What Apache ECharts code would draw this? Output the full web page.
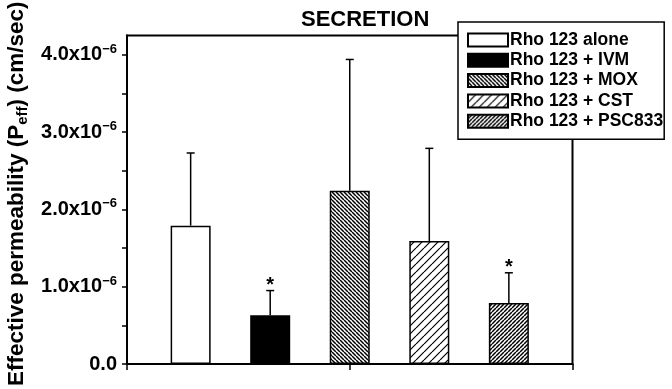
<!DOCTYPE html>
<html><head><meta charset="utf-8">
<script src="https://cdn.jsdelivr.net/npm/echarts@6/dist/echarts.min.js"></script>
<style>html,body{margin:0;padding:0;background:#fff}#c{width:672px;height:389px}</style>
</head><body><div id="c"></div>
<script>
// Data (values in units of 1e-6 cm/sec)
const categories = ['Rho 123 alone', 'Rho 123 + IVM', 'Rho 123 + MOX', 'Rho 123 + CST', 'Rho 123 + PSC833'];
const means = [1.79, 0.63, 2.24, 1.59, 0.79];
const errors = [0.94, 0.32, 1.70, 1.20, 0.39];
const significant = [false, true, false, false, true];
const yTickLabels = [0, 1, 2, 3, 4];
const yMinorTicks = [0, 0.5, 1, 1.5, 2, 2.5, 3, 3.5, 4];

const X_OFFSET = 0.8, X_MAX = 5.6;
const xPos = categories.map((_, i) => i + X_OFFSET);

function hatch(dir, size, lw) {
  const c = document.createElement('canvas');
  c.width = size; c.height = size;
  const ctx = c.getContext('2d');
  ctx.fillStyle = '#fff'; ctx.fillRect(0, 0, size, size);
  ctx.strokeStyle = '#000'; ctx.lineWidth = lw;
  ctx.beginPath();
  for (const k of [-size, 0, size]) {
    if (dir === '/') { ctx.moveTo(k, size); ctx.lineTo(k + size, 0); }
    else { ctx.moveTo(k, 0); ctx.lineTo(k + size, size); }
  }
  ctx.stroke();
  return { image: c, repeat: 'repeat' };
}
const fills = ['#ffffff', '#000000', hatch('\\', 4, 1.5), hatch('/', 8, 1.2), hatch('/', 4, 1.5)];

const FONT = 'Liberation Sans';
const chart = echarts.init(document.getElementById('c'), null, { renderer: 'canvas' });

const barSeries = categories.map((name, i) => ({
  type: 'bar', name: name,
  data: [[xPos[i], means[i]]],
  barWidth: 40, barGap: '-100%',
  itemStyle: { color: fills[i], borderColor: '#000', borderWidth: 1.5 },
  z: 2
}));

const errSeries = {
  type: 'custom', silent: true, z: 5,
  data: means.map((m, i) => [xPos[i], m, errors[i], significant[i] ? 1 : 0]),
  encode: { x: 0, y: 1 },
  renderItem(params, api) {
    const x = api.value(0), m = api.value(1), e = api.value(2);
    const p0 = api.coord([x, m]), p1 = api.coord([x, m + e]);
    const children = [
      { type: 'line', shape: { x1: p0[0], y1: p0[1], x2: p1[0], y2: p1[1] }, style: { stroke: '#000', lineWidth: 1.5 } },
      { type: 'line', shape: { x1: p1[0] - 4, y1: p1[1], x2: p1[0] + 4, y2: p1[1] }, style: { stroke: '#000', lineWidth: 1.5 } }
    ];
    if (api.value(3)) {
      children.push({ type: 'text', style: { text: '*', x: p1[0], y: p1[1] - 5, align: 'center', verticalAlign: 'middle', font: 'bold 20px "Liberation Sans"', fill: '#000' } });
    }
    return { type: 'group', children };
  }
};

chart.setOption({
  animation: false,
  backgroundColor: '#fff',
  title: {
    text: 'SECRETION', left: 296, top: 4,
    textStyle: { fontFamily: FONT, fontWeight: 'bold', fontSize: 22, color: '#000' }
  },
  legend: {
    data: categories, orient: 'vertical', left: 458, top: 22,
    itemWidth: 40, itemHeight: 13, itemGap: 2.3,
    padding: [9, 1, 9, 9],
    borderColor: '#000', borderWidth: 1.5, backgroundColor: '#fff',
    icon: 'rect',
    textStyle: { fontFamily: FONT, fontWeight: 'bold', fontSize: 17.5, color: '#000', padding: [0, 0, 0, -3] }
  },
  grid: { left: 127, right: 99.5, top: 35.5, bottom: 25, show: true, borderColor: '#000', borderWidth: 2, outerBoundsMode: 'none', containLabel: false },
  xAxis: {
    type: 'value', min: 0, max: X_MAX,
    axisLine: { show: true, lineStyle: { color: '#000', width: 2 } },
    axisTick: { show: true, length: 6, customValues: [0, X_MAX / 2, X_MAX], lineStyle: { color: '#000', width: 1.5 } },
    axisLabel: { show: false },
    splitLine: { show: false }
  },
  yAxis: {
    type: 'value', min: 0, max: 4.25,
    axisLine: { show: true, lineStyle: { color: '#000', width: 2 } },
    axisTick: { show: true, length: 5, customValues: yMinorTicks, lineStyle: { color: '#000', width: 1.5 } },
    splitLine: { show: false },
    axisLabel: {
      customValues: yTickLabels, margin: 10,
      formatter: v => v === 0 ? '{a|0.0}' : '{a|' + v.toFixed(1) + 'x10}{s|\u22126}',
      rich: {
        a: { fontFamily: FONT, fontWeight: 'bold', fontSize: 20, color: '#000', lineHeight: 24 },
        s: { fontFamily: FONT, fontWeight: 'bold', fontSize: 13, color: '#000', lineHeight: 13, verticalAlign: 'top' }
      }
    },
    name: '{t|Effective permeability (P}{s|eff}{t|) (cm/sec)}',
    nameLocation: 'middle', nameRotate: 90, nameGap: 97,
    nameTextStyle: {
      padding: [0, 0, 0, 12],
      rich: {
        t: { fontFamily: FONT, fontWeight: 'bold', fontSize: 22.5, color: '#000', lineHeight: 27 },
        s: { fontFamily: FONT, fontWeight: 'bold', fontSize: 15, color: '#000', lineHeight: 13, verticalAlign: 'bottom' }
      }
    }
  },
  series: [...barSeries, errSeries]
});
</script>
</body></html>
